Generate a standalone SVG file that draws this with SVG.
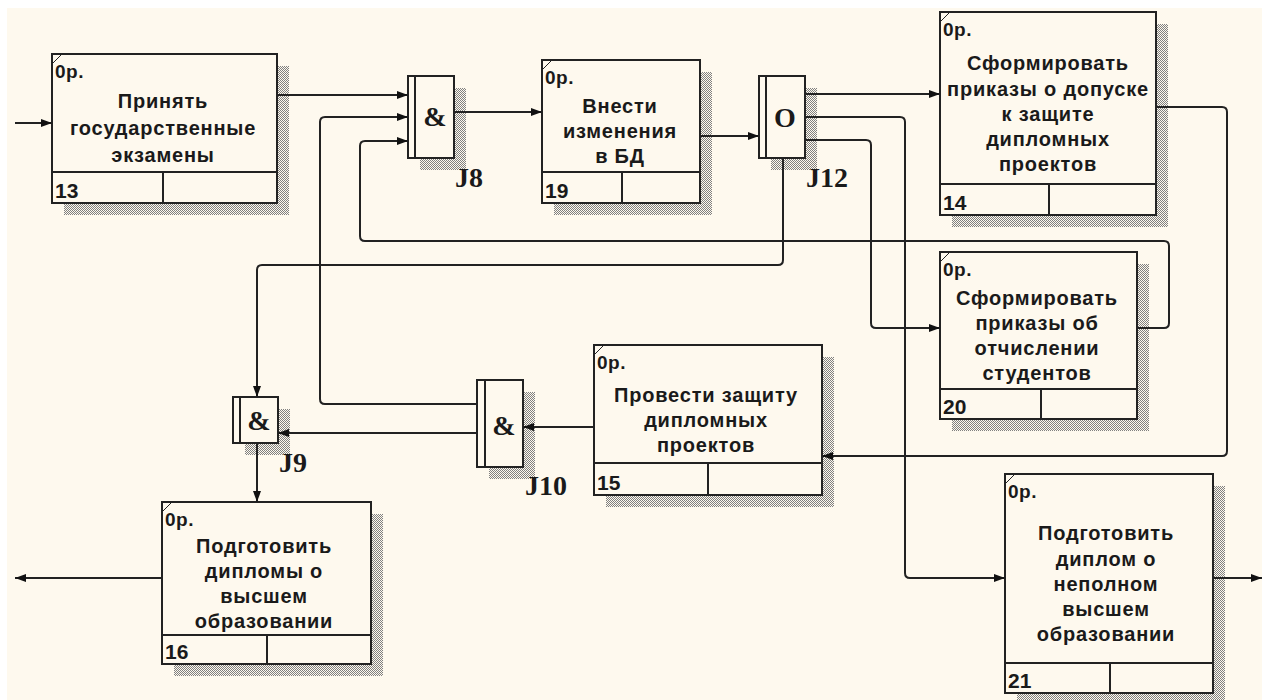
<svg xmlns="http://www.w3.org/2000/svg" width="1269" height="700" viewBox="0 0 1269 700">
<style>
.bg{fill:#fef9ee}
.box{fill:#fef9ee;stroke:#222;stroke-width:2}
.sep{stroke:#222;stroke-width:2;fill:none}
.tick{stroke:#222;stroke-width:1;fill:none}
.sh{fill:url(#hatch)}
.title{font-family:"Liberation Sans",Arial,sans-serif;font-weight:bold;font-size:20px;letter-spacing:0.8px;fill:#1a1a1a;text-anchor:middle}
.op{font-family:"Liberation Sans",Arial,sans-serif;font-weight:bold;font-size:19px;letter-spacing:0.5px;fill:#1a1a1a}
.num{font-family:"Liberation Sans",Arial,sans-serif;font-weight:bold;font-size:21px;fill:#1a1a1a}
.jl{font-family:"Liberation Serif","Times New Roman",serif;font-weight:bold;font-size:28px;fill:#1a1a1a}
.jsym{font-family:"Liberation Serif","Times New Roman",serif;font-weight:bold;font-size:28px;fill:#1a1a1a;text-anchor:middle}
.cn{fill:none;stroke:#222;stroke-width:2;marker-end:url(#arr)}
</style>
<defs>
<pattern id="hatch" width="2" height="2" patternUnits="userSpaceOnUse">
<rect width="2" height="2" fill="#fef9ee"/>
<rect width="1" height="1" fill="#808080"/>
<rect x="1" y="1" width="1" height="1" fill="#808080"/>
</pattern>
<marker id="arr" markerUnits="userSpaceOnUse" markerWidth="12" markerHeight="10" refX="11" refY="5" orient="auto">
<path d="M0,1 L11,5 L0,9 z" fill="#111"/>
</marker>
</defs>
<rect width="1269" height="700" fill="#ffffff"/>
<rect class="bg" x="7" y="8" width="1255" height="692"/>

<g id="box13">
<rect class="sh" x="64" y="66" width="225" height="149"/>
<rect class="box" x="52" y="54" width="225" height="149"/>
<line class="sep" x1="52" y1="172" x2="277" y2="172"/>
<line class="sep" x1="163" y1="172" x2="163" y2="203"/>
<line class="tick" x1="53" y1="63" x2="61" y2="55"/>
<text class="op" x="55" y="78">0р.</text>
<text class="title" x="163" y="108">Принять</text>
<text class="title" x="163" y="135">государственные</text>
<text class="title" x="163" y="162">экзамены</text>
<text class="num" x="55" y="198">13</text>
</g>

<g id="box19">
<rect class="sh" x="554" y="72" width="158" height="143"/>
<rect class="box" x="542" y="60" width="158" height="143"/>
<line class="sep" x1="542" y1="172" x2="700" y2="172"/>
<line class="sep" x1="622" y1="172" x2="622" y2="203"/>
<line class="tick" x1="543" y1="69" x2="551" y2="61"/>
<text class="op" x="545" y="84">0р.</text>
<text class="title" x="620" y="113">Внести</text>
<text class="title" x="620" y="138">изменения</text>
<text class="title" x="620" y="163">в БД</text>
<text class="num" x="545" y="198">19</text>
</g>

<g id="box14">
<rect class="sh" x="952" y="24" width="216" height="203"/>
<rect class="box" x="940" y="12" width="216" height="203"/>
<line class="sep" x1="940" y1="184" x2="1156" y2="184"/>
<line class="sep" x1="1049" y1="184" x2="1049" y2="215"/>
<line class="tick" x1="941" y1="21" x2="949" y2="13"/>
<text class="op" x="943" y="36">0р.</text>
<text class="title" x="1048" y="70">Сформировать</text>
<text class="title" x="1048" y="96">приказы о допуске</text>
<text class="title" x="1048" y="121">к защите</text>
<text class="title" x="1048" y="146">дипломных</text>
<text class="title" x="1048" y="171">проектов</text>
<text class="num" x="943" y="210">14</text>
</g>

<g id="box20">
<rect class="sh" x="952" y="264" width="197" height="167"/>
<rect class="box" x="940" y="252" width="197" height="167"/>
<line class="sep" x1="940" y1="389" x2="1137" y2="389"/>
<line class="sep" x1="1041" y1="389" x2="1041" y2="419"/>
<line class="tick" x1="941" y1="261" x2="949" y2="253"/>
<text class="op" x="943" y="276">0р.</text>
<text class="title" x="1037" y="305">Сформировать</text>
<text class="title" x="1037" y="330">приказы об</text>
<text class="title" x="1037" y="355">отчислении</text>
<text class="title" x="1037" y="380">студентов</text>
<text class="num" x="943" y="414">20</text>
</g>

<g id="box15">
<rect class="sh" x="606" y="357" width="228" height="150"/>
<rect class="box" x="594" y="345" width="228" height="150"/>
<line class="sep" x1="594" y1="463" x2="822" y2="463"/>
<line class="sep" x1="708" y1="463" x2="708" y2="495"/>
<line class="tick" x1="595" y1="354" x2="603" y2="346"/>
<text class="op" x="597" y="369">0р.</text>
<text class="title" x="706" y="402">Провести защиту</text>
<text class="title" x="706" y="427">дипломных</text>
<text class="title" x="706" y="452">проектов</text>
<text class="num" x="597" y="490">15</text>
</g>

<g id="box16">
<rect class="sh" x="174" y="514" width="209" height="162"/>
<rect class="box" x="162" y="502" width="209" height="162"/>
<line class="sep" x1="162" y1="635" x2="371" y2="635"/>
<line class="sep" x1="267" y1="635" x2="267" y2="664"/>
<line class="tick" x1="163" y1="511" x2="171" y2="503"/>
<text class="op" x="165" y="526">0р.</text>
<text class="title" x="264" y="553">Подготовить</text>
<text class="title" x="264" y="578">дипломы о</text>
<text class="title" x="264" y="603">высшем</text>
<text class="title" x="264" y="628">образовании</text>
<text class="num" x="165" y="659">16</text>
</g>

<g id="box21">
<rect class="sh" x="1017" y="486" width="208" height="219"/>
<rect class="box" x="1005" y="474" width="208" height="219"/>
<line class="sep" x1="1005" y1="663" x2="1213" y2="663"/>
<line class="sep" x1="1110" y1="663" x2="1110" y2="693"/>
<line class="tick" x1="1006" y1="483" x2="1014" y2="475"/>
<text class="op" x="1008" y="498">0р.</text>
<text class="title" x="1106" y="540">Подготовить</text>
<text class="title" x="1106" y="566">диплом о</text>
<text class="title" x="1106" y="591">неполном</text>
<text class="title" x="1106" y="616">высшем</text>
<text class="title" x="1106" y="641">образовании</text>
<text class="num" x="1008" y="688">21</text>
</g>

<g id="J8">
<rect class="sh" x="420" y="88" width="46" height="82"/>
<rect class="box" x="408" y="76" width="46" height="82"/>
<line class="sep" x1="415" y1="76" x2="415" y2="158"/>
<text class="jsym" x="435" y="126">&amp;</text>
<text class="jl" x="455" y="187">J8</text>
</g>

<g id="J12">
<rect class="sh" x="771" y="88" width="46" height="82"/>
<rect class="box" x="759" y="76" width="46" height="82"/>
<line class="sep" x1="766" y1="76" x2="766" y2="158"/>
<text class="jsym" x="785" y="127">O</text>
<text class="jl" x="806" y="187">J12</text>
</g>

<g id="J9">
<rect class="sh" x="245" y="409" width="45" height="46"/>
<rect class="box" x="233" y="397" width="45" height="46"/>
<line class="sep" x1="240" y1="397" x2="240" y2="443"/>
<text class="jsym" x="259" y="430">&amp;</text>
<text class="jl" x="279" y="472">J9</text>
</g>

<g id="J10">
<rect class="sh" x="489" y="392" width="46" height="87"/>
<rect class="box" x="477" y="380" width="46" height="87"/>
<line class="sep" x1="485" y1="380" x2="485" y2="467"/>
<text class="jsym" x="504" y="435">&amp;</text>
<text class="jl" x="525" y="495">J10</text>
</g>

<g id="connectors">
<path class="cn" d="M15,123 H52"/>
<path class="cn" d="M277,95 H408"/>
<path class="cn" d="M454,112 H542"/>
<path class="cn" d="M700,136 H759"/>
<path class="cn" d="M805,94 H940"/>
<path class="cn" d="M805,117 H900 Q905,117 905,122 V573 Q905,578 910,578 H1005"/>
<path class="cn" d="M805,140 H866 Q871,140 871,145 V323 Q871,328 876,328 H940"/>
<path class="cn" d="M1156,107 H1222 Q1227,107 1227,112 V451 Q1227,456 1222,456 H822"/>
<path class="cn" d="M1137,328 H1164 Q1169,328 1169,323 V246 Q1169,241 1164,241 H365 Q360,241 360,236 V146 Q360,141 365,141 H408"/>
<path class="cn" d="M783,158 V260 Q783,265 778,265 H262 Q257,265 257,270 V397"/>
<path class="cn" d="M477,404 H325 Q320,404 320,399 V122 Q320,117 325,117 H408"/>
<path class="cn" d="M594,427 H523"/>
<path class="cn" d="M477,433 H278"/>
<path class="cn" d="M257,443 V502"/>
<path class="cn" d="M162,578 H15"/>
<path class="cn" d="M1213,578 H1262"/>
</g>
</svg>
